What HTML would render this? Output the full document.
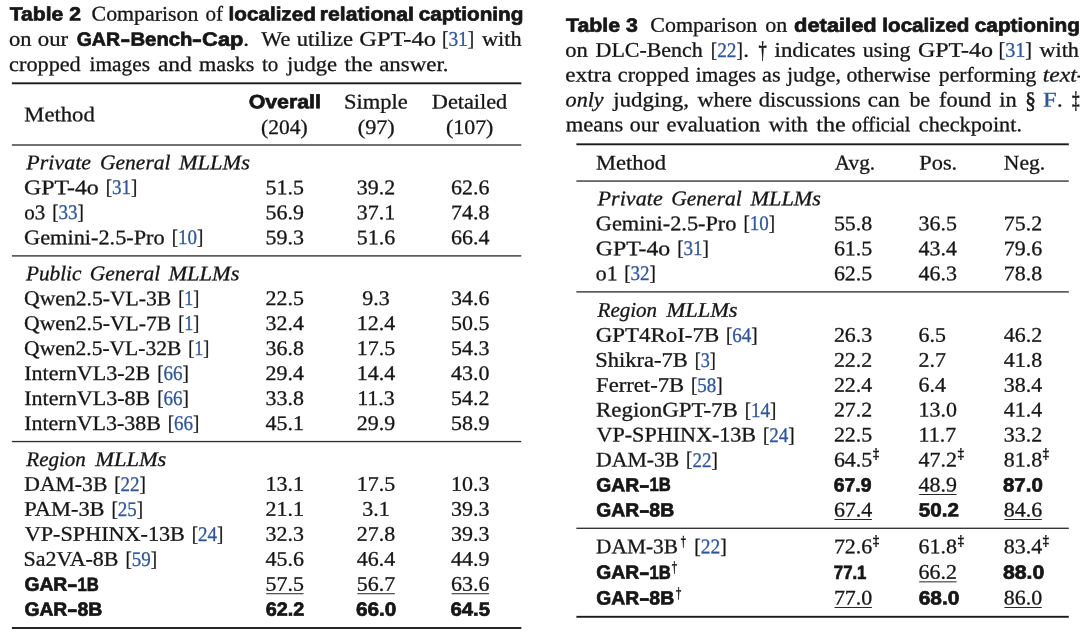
<!DOCTYPE html>
<html lang="en"><head><meta charset="utf-8"><title>Tables 2 and 3</title>
<style>
html,body{margin:0;padding:0;background:#fff;}
body{width:1080px;height:639px;overflow:hidden;}
svg{display:block;}
text{fill:#161616;white-space:pre;stroke:#161616;stroke-width:0.3px;}
.r{font-family:"Liberation Serif", serif;font-size:20.8px;}
.i{font-family:"Liberation Serif", serif;font-size:20.8px;font-style:italic;}
.b{font-family:"Liberation Sans", sans-serif;font-size:19.3px;font-weight:bold;stroke-width:0.7px;}
</style></head><body>
<svg width="1080" height="639" viewBox="0 0 1080 639">
<rect width="1080" height="639" fill="#ffffff"/>
<text class="b" x="9.79" y="20.60" transform="rotate(0.03 9.79 20.60)" textLength="71.09" lengthAdjust="spacingAndGlyphs">Table 2</text>
<text class="r" x="91.63" y="20.60" transform="rotate(0.03 91.63 20.60)" textLength="106.67" lengthAdjust="spacingAndGlyphs">Comparison</text>
<text class="r" x="205.41" y="20.60" transform="rotate(0.03 205.41 20.60)" textLength="17.55" lengthAdjust="spacingAndGlyphs">of</text>
<text class="b" x="228.55" y="20.60" transform="rotate(0.03 228.55 20.60)" textLength="87.26" lengthAdjust="spacingAndGlyphs">localized</text>
<text class="b" x="319.88" y="20.60" transform="rotate(0.03 319.88 20.60)" textLength="94.02" lengthAdjust="spacingAndGlyphs">relational</text>
<text class="b" x="418.67" y="20.60" transform="rotate(0.03 418.67 20.60)" textLength="104.68" lengthAdjust="spacingAndGlyphs">captioning</text>
<text class="r" x="9.10" y="45.80" transform="rotate(0.03 9.10 45.80)" textLength="22.49" lengthAdjust="spacingAndGlyphs">on</text>
<text class="r" x="37.84" y="45.80" transform="rotate(0.03 37.84 45.80)" textLength="30.34" lengthAdjust="spacingAndGlyphs">our</text>
<text class="b" x="76.72" y="45.80" transform="rotate(0.03 76.72 45.80)" textLength="43.31" lengthAdjust="spacingAndGlyphs">GAR</text>
<text class="b" x="120.64" y="45.80" transform="rotate(0.03 120.64 45.80)" textLength="9.66" lengthAdjust="spacingAndGlyphs">-</text>
<text class="b" x="130.48" y="45.80" transform="rotate(0.03 130.48 45.80)" textLength="61.96" lengthAdjust="spacingAndGlyphs">Bench</text>
<text class="b" x="192.02" y="45.80" transform="rotate(0.03 192.02 45.80)" textLength="9.80" lengthAdjust="spacingAndGlyphs">-</text>
<text class="b" x="202.13" y="45.80" transform="rotate(0.03 202.13 45.80)" textLength="41.23" lengthAdjust="spacingAndGlyphs">Cap</text>
<text class="r" x="243.38" y="45.80" transform="rotate(0.03 243.38 45.80)" textLength="5.83" lengthAdjust="spacingAndGlyphs">.</text>
<text class="r" x="261.25" y="45.80" transform="rotate(0.03 261.25 45.80)" textLength="28.97" lengthAdjust="spacingAndGlyphs">We</text>
<text class="r" x="296.86" y="45.80" transform="rotate(0.03 296.86 45.80)" textLength="56.20" lengthAdjust="spacingAndGlyphs">utilize</text>
<text class="r" x="359.32" y="45.80" transform="rotate(0.03 359.32 45.80)" textLength="76.67" lengthAdjust="spacingAndGlyphs">GPT-4o</text>
<text class="r" x="441.94" y="45.80" transform="rotate(0.03 441.94 45.80)" textLength="32.34" lengthAdjust="spacingAndGlyphs">[<tspan style="fill:#2f5699;stroke:#2f5699">31</tspan>]</text>
<text class="r" x="482.00" y="45.80" transform="rotate(0.03 482.00 45.80)" textLength="39.53" lengthAdjust="spacingAndGlyphs">with</text>
<text class="r" x="9.11" y="70.90" transform="rotate(0.03 9.11 70.90)" textLength="71.63" lengthAdjust="spacingAndGlyphs">cropped</text>
<text class="r" x="89.57" y="70.90" transform="rotate(0.03 89.57 70.90)" textLength="60.42" lengthAdjust="spacingAndGlyphs">images</text>
<text class="r" x="157.93" y="70.90" transform="rotate(0.03 157.93 70.90)" textLength="33.88" lengthAdjust="spacingAndGlyphs">and</text>
<text class="r" x="199.06" y="70.90" transform="rotate(0.03 199.06 70.90)" textLength="55.47" lengthAdjust="spacingAndGlyphs">masks</text>
<text class="r" x="261.99" y="70.90" transform="rotate(0.03 261.99 70.90)" textLength="16.30" lengthAdjust="spacingAndGlyphs">to</text>
<text class="r" x="286.93" y="70.90" transform="rotate(0.03 286.93 70.90)" textLength="50.04" lengthAdjust="spacingAndGlyphs">judge</text>
<text class="r" x="344.47" y="70.90" transform="rotate(0.03 344.47 70.90)" textLength="28.26" lengthAdjust="spacingAndGlyphs">the</text>
<text class="r" x="379.20" y="70.90" transform="rotate(0.03 379.20 70.90)" textLength="69.33" lengthAdjust="spacingAndGlyphs">answer.</text>
<rect x="11.90" y="82.35" width="509.40" height="1.90" fill="#1a1a1a"/>
<text class="r" x="24.32" y="121.30" transform="rotate(0.03 24.32 121.30)" textLength="70.42" lengthAdjust="spacingAndGlyphs">Method</text>
<text class="b" x="248.65" y="108.20" transform="rotate(0.03 248.65 108.20)" textLength="72.26" lengthAdjust="spacingAndGlyphs">Overall</text>
<text class="r" x="261.03" y="134.10" transform="rotate(0.03 261.03 134.10)" textLength="46.55" lengthAdjust="spacingAndGlyphs">(204)</text>
<text class="r" x="344.04" y="108.40" transform="rotate(0.03 344.04 108.40)" textLength="63.71" lengthAdjust="spacingAndGlyphs">Simple</text>
<text class="r" x="357.75" y="134.10" transform="rotate(0.03 357.75 134.10)" textLength="36.91" lengthAdjust="spacingAndGlyphs">(97)</text>
<text class="r" x="431.83" y="108.40" transform="rotate(0.03 431.83 108.40)" textLength="75.44" lengthAdjust="spacingAndGlyphs">Detailed</text>
<text class="r" x="446.02" y="134.10" transform="rotate(0.03 446.02 134.10)" textLength="47.38" lengthAdjust="spacingAndGlyphs">(107)</text>
<rect x="11.90" y="144.32" width="509.40" height="1.35" fill="#303030"/>
<text class="i" x="26.36" y="169.30" transform="rotate(0.03 26.36 169.30)" textLength="64.65" lengthAdjust="spacingAndGlyphs">Private</text>
<text class="i" x="100.07" y="169.30" transform="rotate(0.03 100.07 169.30)" textLength="70.40" lengthAdjust="spacingAndGlyphs">General</text>
<text class="i" x="178.97" y="169.30" transform="rotate(0.03 178.97 169.30)" textLength="70.89" lengthAdjust="spacingAndGlyphs">MLLMs</text>
<text class="r" x="24.05" y="194.26" transform="rotate(0.03 24.05 194.26)" textLength="74.72" lengthAdjust="spacingAndGlyphs">GPT-4o</text>
<text class="r" x="105.67" y="194.26" transform="rotate(0.03 105.67 194.26)" textLength="31.68" lengthAdjust="spacingAndGlyphs">[<tspan style="fill:#2f5699;stroke:#2f5699">31</tspan>]</text>
<text class="r" x="265.60" y="194.26" transform="rotate(0.03 265.60 194.26)" textLength="38.40" lengthAdjust="spacingAndGlyphs">51.5</text>
<text class="r" x="356.80" y="194.26" transform="rotate(0.03 356.80 194.26)" textLength="38.40" lengthAdjust="spacingAndGlyphs">39.2</text>
<text class="r" x="451.00" y="194.26" transform="rotate(0.03 451.00 194.26)" textLength="38.40" lengthAdjust="spacingAndGlyphs">62.6</text>
<text class="r" x="24.16" y="219.21" transform="rotate(0.03 24.16 219.21)" textLength="20.98" lengthAdjust="spacingAndGlyphs">o3</text>
<text class="r" x="52.17" y="219.21" transform="rotate(0.03 52.17 219.21)" textLength="31.68" lengthAdjust="spacingAndGlyphs">[<tspan style="fill:#2f5699;stroke:#2f5699">33</tspan>]</text>
<text class="r" x="265.60" y="219.21" transform="rotate(0.03 265.60 219.21)" textLength="38.40" lengthAdjust="spacingAndGlyphs">56.9</text>
<text class="r" x="356.80" y="219.21" transform="rotate(0.03 356.80 219.21)" textLength="38.40" lengthAdjust="spacingAndGlyphs">37.1</text>
<text class="r" x="451.00" y="219.21" transform="rotate(0.03 451.00 219.21)" textLength="38.40" lengthAdjust="spacingAndGlyphs">74.8</text>
<text class="r" x="24.11" y="244.17" transform="rotate(0.03 24.11 244.17)" textLength="140.58" lengthAdjust="spacingAndGlyphs">Gemini-2.5-Pro</text>
<text class="r" x="171.67" y="244.17" transform="rotate(0.03 171.67 244.17)" textLength="31.68" lengthAdjust="spacingAndGlyphs">[<tspan style="fill:#2f5699;stroke:#2f5699">10</tspan>]</text>
<text class="r" x="265.60" y="244.17" transform="rotate(0.03 265.60 244.17)" textLength="38.40" lengthAdjust="spacingAndGlyphs">59.3</text>
<text class="r" x="356.80" y="244.17" transform="rotate(0.03 356.80 244.17)" textLength="38.40" lengthAdjust="spacingAndGlyphs">51.6</text>
<text class="r" x="451.00" y="244.17" transform="rotate(0.03 451.00 244.17)" textLength="38.40" lengthAdjust="spacingAndGlyphs">66.4</text>
<rect x="11.90" y="255.22" width="509.40" height="1.35" fill="#303030"/>
<text class="i" x="25.91" y="280.17" transform="rotate(0.03 25.91 280.17)" textLength="55.56" lengthAdjust="spacingAndGlyphs">Public</text>
<text class="i" x="89.82" y="280.17" transform="rotate(0.03 89.82 280.17)" textLength="70.40" lengthAdjust="spacingAndGlyphs">General</text>
<text class="i" x="168.47" y="280.17" transform="rotate(0.03 168.47 280.17)" textLength="70.89" lengthAdjust="spacingAndGlyphs">MLLMs</text>
<text class="r" x="24.14" y="305.12" transform="rotate(0.03 24.14 305.12)" textLength="147.13" lengthAdjust="spacingAndGlyphs">Qwen2.5-VL-3B</text>
<text class="r" x="178.14" y="305.12" transform="rotate(0.03 178.14 305.12)" textLength="21.15" lengthAdjust="spacingAndGlyphs">[<tspan style="fill:#2f5699;stroke:#2f5699">1</tspan>]</text>
<text class="r" x="265.60" y="305.12" transform="rotate(0.03 265.60 305.12)" textLength="38.40" lengthAdjust="spacingAndGlyphs">22.5</text>
<text class="r" x="362.29" y="305.12" transform="rotate(0.03 362.29 305.12)" textLength="27.43" lengthAdjust="spacingAndGlyphs">9.3</text>
<text class="r" x="451.00" y="305.12" transform="rotate(0.03 451.00 305.12)" textLength="38.40" lengthAdjust="spacingAndGlyphs">34.6</text>
<text class="r" x="24.14" y="330.08" transform="rotate(0.03 24.14 330.08)" textLength="147.13" lengthAdjust="spacingAndGlyphs">Qwen2.5-VL-7B</text>
<text class="r" x="178.14" y="330.08" transform="rotate(0.03 178.14 330.08)" textLength="21.15" lengthAdjust="spacingAndGlyphs">[<tspan style="fill:#2f5699;stroke:#2f5699">1</tspan>]</text>
<text class="r" x="265.60" y="330.08" transform="rotate(0.03 265.60 330.08)" textLength="38.40" lengthAdjust="spacingAndGlyphs">32.4</text>
<text class="r" x="356.80" y="330.08" transform="rotate(0.03 356.80 330.08)" textLength="38.40" lengthAdjust="spacingAndGlyphs">12.4</text>
<text class="r" x="451.00" y="330.08" transform="rotate(0.03 451.00 330.08)" textLength="38.40" lengthAdjust="spacingAndGlyphs">50.5</text>
<text class="r" x="24.14" y="355.04" transform="rotate(0.03 24.14 355.04)" textLength="157.12" lengthAdjust="spacingAndGlyphs">Qwen2.5-VL-32B</text>
<text class="r" x="188.14" y="355.04" transform="rotate(0.03 188.14 355.04)" textLength="21.15" lengthAdjust="spacingAndGlyphs">[<tspan style="fill:#2f5699;stroke:#2f5699">1</tspan>]</text>
<text class="r" x="265.60" y="355.04" transform="rotate(0.03 265.60 355.04)" textLength="38.40" lengthAdjust="spacingAndGlyphs">36.8</text>
<text class="r" x="356.80" y="355.04" transform="rotate(0.03 356.80 355.04)" textLength="38.40" lengthAdjust="spacingAndGlyphs">17.5</text>
<text class="r" x="451.00" y="355.04" transform="rotate(0.03 451.00 355.04)" textLength="38.40" lengthAdjust="spacingAndGlyphs">54.3</text>
<text class="r" x="24.23" y="379.99" transform="rotate(0.03 24.23 379.99)" textLength="126.08" lengthAdjust="spacingAndGlyphs">InternVL3-2B</text>
<text class="r" x="157.17" y="379.99" transform="rotate(0.03 157.17 379.99)" textLength="31.68" lengthAdjust="spacingAndGlyphs">[<tspan style="fill:#2f5699;stroke:#2f5699">66</tspan>]</text>
<text class="r" x="265.60" y="379.99" transform="rotate(0.03 265.60 379.99)" textLength="38.40" lengthAdjust="spacingAndGlyphs">29.4</text>
<text class="r" x="356.80" y="379.99" transform="rotate(0.03 356.80 379.99)" textLength="38.40" lengthAdjust="spacingAndGlyphs">14.4</text>
<text class="r" x="451.00" y="379.99" transform="rotate(0.03 451.00 379.99)" textLength="38.40" lengthAdjust="spacingAndGlyphs">43.0</text>
<text class="r" x="24.23" y="404.95" transform="rotate(0.03 24.23 404.95)" textLength="126.08" lengthAdjust="spacingAndGlyphs">InternVL3-8B</text>
<text class="r" x="157.17" y="404.95" transform="rotate(0.03 157.17 404.95)" textLength="31.68" lengthAdjust="spacingAndGlyphs">[<tspan style="fill:#2f5699;stroke:#2f5699">66</tspan>]</text>
<text class="r" x="265.60" y="404.95" transform="rotate(0.03 265.60 404.95)" textLength="38.40" lengthAdjust="spacingAndGlyphs">33.8</text>
<text class="r" x="357.21" y="404.95" transform="rotate(0.03 357.21 404.95)" textLength="37.59" lengthAdjust="spacingAndGlyphs">11.3</text>
<text class="r" x="451.00" y="404.95" transform="rotate(0.03 451.00 404.95)" textLength="38.40" lengthAdjust="spacingAndGlyphs">54.2</text>
<text class="r" x="24.23" y="429.90" transform="rotate(0.03 24.23 429.90)" textLength="136.58" lengthAdjust="spacingAndGlyphs">InternVL3-38B</text>
<text class="r" x="167.67" y="429.90" transform="rotate(0.03 167.67 429.90)" textLength="31.68" lengthAdjust="spacingAndGlyphs">[<tspan style="fill:#2f5699;stroke:#2f5699">66</tspan>]</text>
<text class="r" x="265.60" y="429.90" transform="rotate(0.03 265.60 429.90)" textLength="38.40" lengthAdjust="spacingAndGlyphs">45.1</text>
<text class="r" x="356.80" y="429.90" transform="rotate(0.03 356.80 429.90)" textLength="38.40" lengthAdjust="spacingAndGlyphs">29.9</text>
<text class="r" x="451.00" y="429.90" transform="rotate(0.03 451.00 429.90)" textLength="38.40" lengthAdjust="spacingAndGlyphs">58.9</text>
<rect x="11.90" y="440.88" width="509.40" height="1.35" fill="#303030"/>
<text class="i" x="26.35" y="465.90" transform="rotate(0.03 26.35 465.90)" textLength="59.43" lengthAdjust="spacingAndGlyphs">Region</text>
<text class="i" x="95.22" y="465.90" transform="rotate(0.03 95.22 465.90)" textLength="71.14" lengthAdjust="spacingAndGlyphs">MLLMs</text>
<text class="r" x="24.35" y="490.86" transform="rotate(0.03 24.35 490.86)" textLength="83.00" lengthAdjust="spacingAndGlyphs">DAM-3B</text>
<text class="r" x="114.17" y="490.86" transform="rotate(0.03 114.17 490.86)" textLength="31.68" lengthAdjust="spacingAndGlyphs">[<tspan style="fill:#2f5699;stroke:#2f5699">22</tspan>]</text>
<text class="r" x="265.60" y="490.86" transform="rotate(0.03 265.60 490.86)" textLength="38.40" lengthAdjust="spacingAndGlyphs">13.1</text>
<text class="r" x="356.80" y="490.86" transform="rotate(0.03 356.80 490.86)" textLength="38.40" lengthAdjust="spacingAndGlyphs">17.5</text>
<text class="r" x="451.00" y="490.86" transform="rotate(0.03 451.00 490.86)" textLength="38.40" lengthAdjust="spacingAndGlyphs">10.3</text>
<text class="r" x="24.33" y="515.82" transform="rotate(0.03 24.33 515.82)" textLength="80.25" lengthAdjust="spacingAndGlyphs">PAM-3B</text>
<text class="r" x="111.42" y="515.82" transform="rotate(0.03 111.42 515.82)" textLength="31.68" lengthAdjust="spacingAndGlyphs">[<tspan style="fill:#2f5699;stroke:#2f5699">25</tspan>]</text>
<text class="r" x="265.60" y="515.82" transform="rotate(0.03 265.60 515.82)" textLength="38.40" lengthAdjust="spacingAndGlyphs">21.1</text>
<text class="r" x="362.29" y="515.82" transform="rotate(0.03 362.29 515.82)" textLength="27.43" lengthAdjust="spacingAndGlyphs">3.1</text>
<text class="r" x="451.00" y="515.82" transform="rotate(0.03 451.00 515.82)" textLength="38.40" lengthAdjust="spacingAndGlyphs">39.3</text>
<text class="r" x="24.78" y="540.77" transform="rotate(0.03 24.78 540.77)" textLength="160.10" lengthAdjust="spacingAndGlyphs">VP-SPHINX-13B</text>
<text class="r" x="191.67" y="540.77" transform="rotate(0.03 191.67 540.77)" textLength="31.68" lengthAdjust="spacingAndGlyphs">[<tspan style="fill:#2f5699;stroke:#2f5699">24</tspan>]</text>
<text class="r" x="265.60" y="540.77" transform="rotate(0.03 265.60 540.77)" textLength="38.40" lengthAdjust="spacingAndGlyphs">32.3</text>
<text class="r" x="356.80" y="540.77" transform="rotate(0.03 356.80 540.77)" textLength="38.40" lengthAdjust="spacingAndGlyphs">27.8</text>
<text class="r" x="451.00" y="540.77" transform="rotate(0.03 451.00 540.77)" textLength="38.40" lengthAdjust="spacingAndGlyphs">39.3</text>
<text class="r" x="23.57" y="565.73" transform="rotate(0.03 23.57 565.73)" textLength="94.98" lengthAdjust="spacingAndGlyphs">Sa2VA-8B</text>
<text class="r" x="125.42" y="565.73" transform="rotate(0.03 125.42 565.73)" textLength="31.68" lengthAdjust="spacingAndGlyphs">[<tspan style="fill:#2f5699;stroke:#2f5699">59</tspan>]</text>
<text class="r" x="265.60" y="565.73" transform="rotate(0.03 265.60 565.73)" textLength="38.40" lengthAdjust="spacingAndGlyphs">45.6</text>
<text class="r" x="356.80" y="565.73" transform="rotate(0.03 356.80 565.73)" textLength="38.40" lengthAdjust="spacingAndGlyphs">46.4</text>
<text class="r" x="451.00" y="565.73" transform="rotate(0.03 451.00 565.73)" textLength="38.40" lengthAdjust="spacingAndGlyphs">44.9</text>
<text class="b" x="24.43" y="590.68" transform="rotate(0.03 24.43 590.68)" textLength="42.80" lengthAdjust="spacingAndGlyphs">GAR</text>
<text class="b" x="67.38" y="590.68" transform="rotate(0.03 67.38 590.68)" textLength="10.19" lengthAdjust="spacingAndGlyphs">-</text>
<text class="b" x="77.60" y="590.68" transform="rotate(0.03 77.60 590.68)" textLength="21.31" lengthAdjust="spacingAndGlyphs">1B</text>
<text class="r" x="265.60" y="590.68" transform="rotate(0.03 265.60 590.68)" textLength="38.40" lengthAdjust="spacingAndGlyphs">57.5</text>
<rect x="266.20" y="593.26" width="37.40" height="0.95" fill="#1a1a1a"/>
<text class="r" x="356.80" y="590.68" transform="rotate(0.03 356.80 590.68)" textLength="38.40" lengthAdjust="spacingAndGlyphs">56.7</text>
<rect x="357.40" y="593.26" width="37.40" height="0.95" fill="#1a1a1a"/>
<text class="r" x="451.00" y="590.68" transform="rotate(0.03 451.00 590.68)" textLength="38.40" lengthAdjust="spacingAndGlyphs">63.6</text>
<rect x="451.60" y="593.26" width="37.40" height="0.95" fill="#1a1a1a"/>
<text class="b" x="24.43" y="615.64" transform="rotate(0.03 24.43 615.64)" textLength="42.80" lengthAdjust="spacingAndGlyphs">GAR</text>
<text class="b" x="67.38" y="615.64" transform="rotate(0.03 67.38 615.64)" textLength="10.19" lengthAdjust="spacingAndGlyphs">-</text>
<text class="b" x="77.52" y="615.64" transform="rotate(0.03 77.52 615.64)" textLength="24.82" lengthAdjust="spacingAndGlyphs">8B</text>
<text class="b" x="265.71" y="615.64" transform="rotate(0.03 265.71 615.64)" textLength="38.51" lengthAdjust="spacingAndGlyphs">62.2</text>
<text class="b" x="356.08" y="615.64" transform="rotate(0.03 356.08 615.64)" textLength="40.28" lengthAdjust="spacingAndGlyphs">66.0</text>
<text class="b" x="450.49" y="615.64" transform="rotate(0.03 450.49 615.64)" textLength="39.44" lengthAdjust="spacingAndGlyphs">64.5</text>
<rect x="11.90" y="627.05" width="509.40" height="1.90" fill="#1a1a1a"/>
<text class="b" x="566.04" y="31.80" transform="rotate(0.03 566.04 31.80)" textLength="71.74" lengthAdjust="spacingAndGlyphs">Table 3</text>
<text class="r" x="650.38" y="31.80" transform="rotate(0.03 650.38 31.80)" textLength="106.92" lengthAdjust="spacingAndGlyphs">Comparison</text>
<text class="r" x="765.37" y="31.80" transform="rotate(0.03 765.37 31.80)" textLength="21.96" lengthAdjust="spacingAndGlyphs">on</text>
<text class="b" x="794.13" y="31.80" transform="rotate(0.03 794.13 31.80)" textLength="82.57" lengthAdjust="spacingAndGlyphs">detailed</text>
<text class="b" x="882.36" y="31.80" transform="rotate(0.03 882.36 31.80)" textLength="86.95" lengthAdjust="spacingAndGlyphs">localized</text>
<text class="b" x="974.77" y="31.80" transform="rotate(0.03 974.77 31.80)" textLength="105.19" lengthAdjust="spacingAndGlyphs">captioning</text>
<text class="r" x="565.35" y="56.70" transform="rotate(0.03 565.35 56.70)" textLength="22.49" lengthAdjust="spacingAndGlyphs">on</text>
<text class="r" x="595.59" y="56.70" transform="rotate(0.03 595.59 56.70)" textLength="107.19" lengthAdjust="spacingAndGlyphs">DLC-Bench</text>
<text class="r" x="710.75" y="56.70" transform="rotate(0.03 710.75 56.70)" textLength="32.12" lengthAdjust="spacingAndGlyphs">[<tspan style="fill:#2f5699;stroke:#2f5699">22</tspan>]</text>
<text class="r" x="743.38" y="56.70" transform="rotate(0.03 743.38 56.70)" textLength="5.83" lengthAdjust="spacingAndGlyphs">.</text>
<text class="r" x="758.51" y="58.17" transform="rotate(0.03 758.51 58.17)" textLength="8.18" lengthAdjust="spacingAndGlyphs" style="font-size:23.70px;stroke-width:0.55px;">†</text>
<text class="r" x="774.54" y="56.70" transform="rotate(0.03 774.54 56.70)" textLength="81.24" lengthAdjust="spacingAndGlyphs">indicates</text>
<text class="r" x="862.87" y="56.70" transform="rotate(0.03 862.87 56.70)" textLength="47.61" lengthAdjust="spacingAndGlyphs">using</text>
<text class="r" x="917.94" y="56.70" transform="rotate(0.03 917.94 56.70)" textLength="75.03" lengthAdjust="spacingAndGlyphs">GPT-4o</text>
<text class="r" x="998.49" y="56.70" transform="rotate(0.03 998.49 56.70)" textLength="33.54" lengthAdjust="spacingAndGlyphs">[<tspan style="fill:#2f5699;stroke:#2f5699">31</tspan>]</text>
<text class="r" x="1039.50" y="56.70" transform="rotate(0.03 1039.50 56.70)" textLength="39.38" lengthAdjust="spacingAndGlyphs">with</text>
<text class="r" x="565.32" y="81.60" transform="rotate(0.03 565.32 81.60)" textLength="46.24" lengthAdjust="spacingAndGlyphs">extra</text>
<text class="r" x="617.87" y="81.60" transform="rotate(0.03 617.87 81.60)" textLength="71.12" lengthAdjust="spacingAndGlyphs">cropped</text>
<text class="r" x="695.83" y="81.60" transform="rotate(0.03 695.83 81.60)" textLength="60.16" lengthAdjust="spacingAndGlyphs">images</text>
<text class="r" x="762.02" y="81.60" transform="rotate(0.03 762.02 81.60)" textLength="18.51" lengthAdjust="spacingAndGlyphs">as</text>
<text class="r" x="786.90" y="81.60" transform="rotate(0.03 786.90 81.60)" textLength="53.95" lengthAdjust="spacingAndGlyphs">judge,</text>
<text class="r" x="846.43" y="81.60" transform="rotate(0.03 846.43 81.60)" textLength="84.28" lengthAdjust="spacingAndGlyphs">otherwise</text>
<text class="r" x="938.87" y="81.60" transform="rotate(0.03 938.87 81.60)" textLength="97.53" lengthAdjust="spacingAndGlyphs">performing</text>
<text class="i" x="1042.74" y="81.60" transform="rotate(0.03 1042.74 81.60)" textLength="41.92" lengthAdjust="spacingAndGlyphs">text-</text>
<text class="i" x="565.59" y="106.45" transform="rotate(0.03 565.59 106.45)" textLength="38.09" lengthAdjust="spacingAndGlyphs">only</text>
<text class="r" x="613.19" y="106.45" transform="rotate(0.03 613.19 106.45)" textLength="75.82" lengthAdjust="spacingAndGlyphs">judging,</text>
<text class="r" x="697.50" y="106.45" transform="rotate(0.03 697.50 106.45)" textLength="54.48" lengthAdjust="spacingAndGlyphs">where</text>
<text class="r" x="758.72" y="106.45" transform="rotate(0.03 758.72 106.45)" textLength="102.09" lengthAdjust="spacingAndGlyphs">discussions</text>
<text class="r" x="867.83" y="106.45" transform="rotate(0.03 867.83 106.45)" textLength="31.86" lengthAdjust="spacingAndGlyphs">can</text>
<text class="r" x="909.40" y="106.45" transform="rotate(0.03 909.40 106.45)" textLength="20.74" lengthAdjust="spacingAndGlyphs">be</text>
<text class="r" x="939.03" y="106.45" transform="rotate(0.03 939.03 106.45)" textLength="52.15" lengthAdjust="spacingAndGlyphs">found</text>
<text class="r" x="999.25" y="106.45" transform="rotate(0.03 999.25 106.45)" textLength="17.44" lengthAdjust="spacingAndGlyphs">in</text>
<text class="r" x="1025.31" y="107.75" transform="rotate(0.03 1025.31 107.75)" textLength="10.58" lengthAdjust="spacingAndGlyphs" style="font-size:23.23px;stroke-width:0.55px;">§</text>
<text class="r" x="1043.06" y="106.45" transform="rotate(0.03 1043.06 106.45)" textLength="13.73" lengthAdjust="spacingAndGlyphs" style="fill:#2f5699;stroke:#2f5699;">F</text>
<text class="r" x="1057.04" y="106.45" transform="rotate(0.03 1057.04 106.45)" textLength="5.63" lengthAdjust="spacingAndGlyphs">.</text>
<text class="r" x="1072.04" y="107.92" transform="rotate(0.03 1072.04 107.92)" textLength="7.61" lengthAdjust="spacingAndGlyphs" style="font-size:23.70px;stroke-width:0.55px;">‡</text>
<text class="r" x="565.80" y="131.30" transform="rotate(0.03 565.80 131.30)" textLength="57.48" lengthAdjust="spacingAndGlyphs">means</text>
<text class="r" x="629.88" y="131.30" transform="rotate(0.03 629.88 131.30)" textLength="29.05" lengthAdjust="spacingAndGlyphs">our</text>
<text class="r" x="666.60" y="131.30" transform="rotate(0.03 666.60 131.30)" textLength="93.74" lengthAdjust="spacingAndGlyphs">evaluation</text>
<text class="r" x="768.80" y="131.30" transform="rotate(0.03 768.80 131.30)" textLength="38.98" lengthAdjust="spacingAndGlyphs">with</text>
<text class="r" x="816.26" y="131.30" transform="rotate(0.03 816.26 131.30)" textLength="29.51" lengthAdjust="spacingAndGlyphs">the</text>
<text class="r" x="851.68" y="131.30" transform="rotate(0.03 851.68 131.30)" textLength="58.71" lengthAdjust="spacingAndGlyphs">official</text>
<text class="r" x="918.81" y="131.30" transform="rotate(0.03 918.81 131.30)" textLength="103.18" lengthAdjust="spacingAndGlyphs">checkpoint.</text>
<rect x="576.40" y="143.35" width="492.40" height="1.90" fill="#1a1a1a"/>
<text class="r" x="596.08" y="169.60" transform="rotate(0.03 596.08 169.60)" textLength="69.92" lengthAdjust="spacingAndGlyphs">Method</text>
<text class="r" x="834.79" y="169.60" transform="rotate(0.03 834.79 169.60)" textLength="40.30" lengthAdjust="spacingAndGlyphs">Avg.</text>
<text class="r" x="919.33" y="169.60" transform="rotate(0.03 919.33 169.60)" textLength="37.88" lengthAdjust="spacingAndGlyphs">Pos.</text>
<text class="r" x="1003.85" y="169.60" transform="rotate(0.03 1003.85 169.60)" textLength="41.32" lengthAdjust="spacingAndGlyphs">Neg.</text>
<rect x="576.40" y="180.38" width="492.40" height="1.35" fill="#303030"/>
<text class="i" x="597.61" y="205.30" transform="rotate(0.03 597.61 205.30)" textLength="65.10" lengthAdjust="spacingAndGlyphs">Private</text>
<text class="i" x="671.32" y="205.30" transform="rotate(0.03 671.32 205.30)" textLength="70.40" lengthAdjust="spacingAndGlyphs">General</text>
<text class="i" x="750.52" y="205.30" transform="rotate(0.03 750.52 205.30)" textLength="70.39" lengthAdjust="spacingAndGlyphs">MLLMs</text>
<text class="r" x="595.86" y="230.26" transform="rotate(0.03 595.86 230.26)" textLength="140.58" lengthAdjust="spacingAndGlyphs">Gemini-2.5-Pro</text>
<text class="r" x="743.42" y="230.26" transform="rotate(0.03 743.42 230.26)" textLength="31.68" lengthAdjust="spacingAndGlyphs">[<tspan style="fill:#2f5699;stroke:#2f5699">10</tspan>]</text>
<text class="r" x="833.90" y="230.26" transform="rotate(0.03 833.90 230.26)" textLength="38.40" lengthAdjust="spacingAndGlyphs">55.8</text>
<text class="r" x="918.60" y="230.26" transform="rotate(0.03 918.60 230.26)" textLength="38.40" lengthAdjust="spacingAndGlyphs">36.5</text>
<text class="r" x="1003.80" y="230.26" transform="rotate(0.03 1003.80 230.26)" textLength="38.40" lengthAdjust="spacingAndGlyphs">75.2</text>
<text class="r" x="595.80" y="255.21" transform="rotate(0.03 595.80 255.21)" textLength="74.46" lengthAdjust="spacingAndGlyphs">GPT-4o</text>
<text class="r" x="677.17" y="255.21" transform="rotate(0.03 677.17 255.21)" textLength="31.68" lengthAdjust="spacingAndGlyphs">[<tspan style="fill:#2f5699;stroke:#2f5699">31</tspan>]</text>
<text class="r" x="833.90" y="255.21" transform="rotate(0.03 833.90 255.21)" textLength="38.40" lengthAdjust="spacingAndGlyphs">61.5</text>
<text class="r" x="918.60" y="255.21" transform="rotate(0.03 918.60 255.21)" textLength="38.40" lengthAdjust="spacingAndGlyphs">43.4</text>
<text class="r" x="1003.80" y="255.21" transform="rotate(0.03 1003.80 255.21)" textLength="38.40" lengthAdjust="spacingAndGlyphs">79.6</text>
<text class="r" x="595.88" y="280.17" transform="rotate(0.03 595.88 280.17)" textLength="21.72" lengthAdjust="spacingAndGlyphs">o1</text>
<text class="r" x="624.17" y="280.17" transform="rotate(0.03 624.17 280.17)" textLength="31.68" lengthAdjust="spacingAndGlyphs">[<tspan style="fill:#2f5699;stroke:#2f5699">32</tspan>]</text>
<text class="r" x="833.90" y="280.17" transform="rotate(0.03 833.90 280.17)" textLength="38.40" lengthAdjust="spacingAndGlyphs">62.5</text>
<text class="r" x="918.60" y="280.17" transform="rotate(0.03 918.60 280.17)" textLength="38.40" lengthAdjust="spacingAndGlyphs">46.3</text>
<text class="r" x="1003.80" y="280.17" transform="rotate(0.03 1003.80 280.17)" textLength="38.40" lengthAdjust="spacingAndGlyphs">78.8</text>
<rect x="576.40" y="291.22" width="492.40" height="1.35" fill="#303030"/>
<text class="i" x="597.60" y="316.77" transform="rotate(0.03 597.60 316.77)" textLength="59.43" lengthAdjust="spacingAndGlyphs">Region</text>
<text class="i" x="666.47" y="316.77" transform="rotate(0.03 666.47 316.77)" textLength="71.14" lengthAdjust="spacingAndGlyphs">MLLMs</text>
<text class="r" x="595.83" y="341.72" transform="rotate(0.03 595.83 341.72)" textLength="123.35" lengthAdjust="spacingAndGlyphs">GPT4RoI-7B</text>
<text class="r" x="725.92" y="341.72" transform="rotate(0.03 725.92 341.72)" textLength="31.68" lengthAdjust="spacingAndGlyphs">[<tspan style="fill:#2f5699;stroke:#2f5699">64</tspan>]</text>
<text class="r" x="833.90" y="341.72" transform="rotate(0.03 833.90 341.72)" textLength="38.40" lengthAdjust="spacingAndGlyphs">26.3</text>
<text class="r" x="918.60" y="341.72" transform="rotate(0.03 918.60 341.72)" textLength="27.43" lengthAdjust="spacingAndGlyphs">6.5</text>
<text class="r" x="1003.80" y="341.72" transform="rotate(0.03 1003.80 341.72)" textLength="38.40" lengthAdjust="spacingAndGlyphs">46.2</text>
<text class="r" x="595.29" y="366.68" transform="rotate(0.03 595.29 366.68)" textLength="92.44" lengthAdjust="spacingAndGlyphs">Shikra-7B</text>
<text class="r" x="694.64" y="366.68" transform="rotate(0.03 694.64 366.68)" textLength="21.15" lengthAdjust="spacingAndGlyphs">[<tspan style="fill:#2f5699;stroke:#2f5699">3</tspan>]</text>
<text class="r" x="833.90" y="366.68" transform="rotate(0.03 833.90 366.68)" textLength="38.40" lengthAdjust="spacingAndGlyphs">22.2</text>
<text class="r" x="918.60" y="366.68" transform="rotate(0.03 918.60 366.68)" textLength="27.43" lengthAdjust="spacingAndGlyphs">2.7</text>
<text class="r" x="1003.80" y="366.68" transform="rotate(0.03 1003.80 366.68)" textLength="38.40" lengthAdjust="spacingAndGlyphs">41.8</text>
<text class="r" x="596.07" y="391.64" transform="rotate(0.03 596.07 391.64)" textLength="88.06" lengthAdjust="spacingAndGlyphs">Ferret-7B</text>
<text class="r" x="690.92" y="391.64" transform="rotate(0.03 690.92 391.64)" textLength="31.68" lengthAdjust="spacingAndGlyphs">[<tspan style="fill:#2f5699;stroke:#2f5699">58</tspan>]</text>
<text class="r" x="833.90" y="391.64" transform="rotate(0.03 833.90 391.64)" textLength="38.40" lengthAdjust="spacingAndGlyphs">22.4</text>
<text class="r" x="918.60" y="391.64" transform="rotate(0.03 918.60 391.64)" textLength="27.43" lengthAdjust="spacingAndGlyphs">6.4</text>
<text class="r" x="1003.80" y="391.64" transform="rotate(0.03 1003.80 391.64)" textLength="38.40" lengthAdjust="spacingAndGlyphs">38.4</text>
<text class="r" x="596.06" y="416.59" transform="rotate(0.03 596.06 416.59)" textLength="141.80" lengthAdjust="spacingAndGlyphs">RegionGPT-7B</text>
<text class="r" x="744.67" y="416.59" transform="rotate(0.03 744.67 416.59)" textLength="31.68" lengthAdjust="spacingAndGlyphs">[<tspan style="fill:#2f5699;stroke:#2f5699">14</tspan>]</text>
<text class="r" x="833.90" y="416.59" transform="rotate(0.03 833.90 416.59)" textLength="38.40" lengthAdjust="spacingAndGlyphs">27.2</text>
<text class="r" x="918.60" y="416.59" transform="rotate(0.03 918.60 416.59)" textLength="38.40" lengthAdjust="spacingAndGlyphs">13.0</text>
<text class="r" x="1003.80" y="416.59" transform="rotate(0.03 1003.80 416.59)" textLength="38.40" lengthAdjust="spacingAndGlyphs">41.4</text>
<text class="r" x="596.53" y="441.55" transform="rotate(0.03 596.53 441.55)" textLength="159.59" lengthAdjust="spacingAndGlyphs">VP-SPHINX-13B</text>
<text class="r" x="762.92" y="441.55" transform="rotate(0.03 762.92 441.55)" textLength="31.68" lengthAdjust="spacingAndGlyphs">[<tspan style="fill:#2f5699;stroke:#2f5699">24</tspan>]</text>
<text class="r" x="833.90" y="441.55" transform="rotate(0.03 833.90 441.55)" textLength="38.40" lengthAdjust="spacingAndGlyphs">22.5</text>
<text class="r" x="918.60" y="441.55" transform="rotate(0.03 918.60 441.55)" textLength="37.59" lengthAdjust="spacingAndGlyphs">11.7</text>
<text class="r" x="1003.80" y="441.55" transform="rotate(0.03 1003.80 441.55)" textLength="38.40" lengthAdjust="spacingAndGlyphs">33.2</text>
<text class="r" x="596.10" y="466.50" transform="rotate(0.03 596.10 466.50)" textLength="83.15" lengthAdjust="spacingAndGlyphs">DAM-3B</text>
<text class="r" x="686.07" y="466.50" transform="rotate(0.03 686.07 466.50)" textLength="31.68" lengthAdjust="spacingAndGlyphs">[<tspan style="fill:#2f5699;stroke:#2f5699">22</tspan>]</text>
<text class="r" x="833.90" y="466.50" transform="rotate(0.03 833.90 466.50)" textLength="38.40" lengthAdjust="spacingAndGlyphs">64.5</text>
<text class="r" x="872.93" y="457.90" transform="rotate(0.03 872.93 457.90)" textLength="6.14" lengthAdjust="spacingAndGlyphs" style="font-size:13.95px;stroke-width:0.55px;">‡</text>
<text class="r" x="918.60" y="466.50" transform="rotate(0.03 918.60 466.50)" textLength="38.40" lengthAdjust="spacingAndGlyphs">47.2</text>
<text class="r" x="957.63" y="457.90" transform="rotate(0.03 957.63 457.90)" textLength="6.14" lengthAdjust="spacingAndGlyphs" style="font-size:13.95px;stroke-width:0.55px;">‡</text>
<text class="r" x="1003.80" y="466.50" transform="rotate(0.03 1003.80 466.50)" textLength="38.40" lengthAdjust="spacingAndGlyphs">81.8</text>
<text class="r" x="1042.83" y="457.90" transform="rotate(0.03 1042.83 457.90)" textLength="6.14" lengthAdjust="spacingAndGlyphs" style="font-size:13.95px;stroke-width:0.55px;">‡</text>
<text class="b" x="596.28" y="491.46" transform="rotate(0.03 596.28 491.46)" textLength="42.80" lengthAdjust="spacingAndGlyphs">GAR</text>
<text class="b" x="639.23" y="491.46" transform="rotate(0.03 639.23 491.46)" textLength="10.19" lengthAdjust="spacingAndGlyphs">-</text>
<text class="b" x="649.45" y="491.46" transform="rotate(0.03 649.45 491.46)" textLength="21.31" lengthAdjust="spacingAndGlyphs">1B</text>
<text class="b" x="833.82" y="491.46" transform="rotate(0.03 833.82 491.46)" textLength="37.68" lengthAdjust="spacingAndGlyphs">67.9</text>
<text class="r" x="918.60" y="491.46" transform="rotate(0.03 918.60 491.46)" textLength="38.40" lengthAdjust="spacingAndGlyphs">48.9</text>
<rect x="919.20" y="494.04" width="37.40" height="0.95" fill="#1a1a1a"/>
<text class="b" x="1002.99" y="491.46" transform="rotate(0.03 1002.99 491.46)" textLength="39.86" lengthAdjust="spacingAndGlyphs">87.0</text>
<text class="b" x="596.28" y="516.42" transform="rotate(0.03 596.28 516.42)" textLength="42.80" lengthAdjust="spacingAndGlyphs">GAR</text>
<text class="b" x="639.23" y="516.42" transform="rotate(0.03 639.23 516.42)" textLength="10.19" lengthAdjust="spacingAndGlyphs">-</text>
<text class="b" x="649.37" y="516.42" transform="rotate(0.03 649.37 516.42)" textLength="24.82" lengthAdjust="spacingAndGlyphs">8B</text>
<text class="r" x="833.90" y="516.42" transform="rotate(0.03 833.90 516.42)" textLength="38.40" lengthAdjust="spacingAndGlyphs">67.4</text>
<rect x="834.50" y="518.99" width="37.40" height="0.95" fill="#1a1a1a"/>
<text class="b" x="918.78" y="516.42" transform="rotate(0.03 918.78 516.42)" textLength="40.07" lengthAdjust="spacingAndGlyphs">50.2</text>
<text class="r" x="1003.80" y="516.42" transform="rotate(0.03 1003.80 516.42)" textLength="38.40" lengthAdjust="spacingAndGlyphs">84.6</text>
<rect x="1004.40" y="518.99" width="37.40" height="0.95" fill="#1a1a1a"/>
<rect x="576.40" y="527.62" width="492.40" height="1.35" fill="#303030"/>
<text class="r" x="596.11" y="553.30" transform="rotate(0.03 596.11 553.30)" textLength="81.93" lengthAdjust="spacingAndGlyphs">DAM-3B</text>
<text class="r" x="680.69" y="546.25" transform="rotate(0.03 680.69 546.25)" textLength="5.11" lengthAdjust="spacingAndGlyphs" style="font-size:14.32px;stroke-width:0.55px;">†</text>
<text class="r" x="694.28" y="553.30" transform="rotate(0.03 694.28 553.30)" textLength="32.61" lengthAdjust="spacingAndGlyphs">[<tspan style="fill:#2f5699;stroke:#2f5699">22</tspan>]</text>
<text class="r" x="833.90" y="553.30" transform="rotate(0.03 833.90 553.30)" textLength="38.40" lengthAdjust="spacingAndGlyphs">72.6</text>
<text class="r" x="872.93" y="544.70" transform="rotate(0.03 872.93 544.70)" textLength="6.14" lengthAdjust="spacingAndGlyphs" style="font-size:13.95px;stroke-width:0.55px;">‡</text>
<text class="r" x="918.60" y="553.30" transform="rotate(0.03 918.60 553.30)" textLength="38.40" lengthAdjust="spacingAndGlyphs">61.8</text>
<text class="r" x="957.63" y="544.70" transform="rotate(0.03 957.63 544.70)" textLength="6.14" lengthAdjust="spacingAndGlyphs" style="font-size:13.95px;stroke-width:0.55px;">‡</text>
<text class="r" x="1003.80" y="553.30" transform="rotate(0.03 1003.80 553.30)" textLength="38.40" lengthAdjust="spacingAndGlyphs">83.4</text>
<text class="r" x="1042.83" y="544.70" transform="rotate(0.03 1042.83 544.70)" textLength="6.14" lengthAdjust="spacingAndGlyphs" style="font-size:13.95px;stroke-width:0.55px;">‡</text>
<text class="b" x="596.28" y="578.80" transform="rotate(0.03 596.28 578.80)" textLength="42.80" lengthAdjust="spacingAndGlyphs">GAR</text>
<text class="b" x="639.23" y="578.80" transform="rotate(0.03 639.23 578.80)" textLength="10.19" lengthAdjust="spacingAndGlyphs">-</text>
<text class="b" x="649.45" y="578.80" transform="rotate(0.03 649.45 578.80)" textLength="21.31" lengthAdjust="spacingAndGlyphs">1B</text>
<text class="r" x="671.79" y="572.27" transform="rotate(0.03 671.79 572.27)" textLength="5.23" lengthAdjust="spacingAndGlyphs" style="font-size:15.06px;stroke-width:0.55px;">†</text>
<text class="b" x="833.83" y="578.80" transform="rotate(0.03 833.83 578.80)" textLength="32.61" lengthAdjust="spacingAndGlyphs">77.1</text>
<text class="r" x="918.60" y="578.80" transform="rotate(0.03 918.60 578.80)" textLength="38.40" lengthAdjust="spacingAndGlyphs">66.2</text>
<rect x="919.20" y="581.37" width="37.40" height="0.95" fill="#1a1a1a"/>
<text class="b" x="1002.96" y="578.80" transform="rotate(0.03 1002.96 578.80)" textLength="41.42" lengthAdjust="spacingAndGlyphs">88.0</text>
<text class="b" x="596.28" y="604.40" transform="rotate(0.03 596.28 604.40)" textLength="42.80" lengthAdjust="spacingAndGlyphs">GAR</text>
<text class="b" x="639.23" y="604.40" transform="rotate(0.03 639.23 604.40)" textLength="10.19" lengthAdjust="spacingAndGlyphs">-</text>
<text class="b" x="649.37" y="604.40" transform="rotate(0.03 649.37 604.40)" textLength="24.82" lengthAdjust="spacingAndGlyphs">8B</text>
<text class="r" x="675.89" y="597.87" transform="rotate(0.03 675.89 597.87)" textLength="5.23" lengthAdjust="spacingAndGlyphs" style="font-size:15.06px;stroke-width:0.55px;">†</text>
<text class="r" x="833.90" y="604.40" transform="rotate(0.03 833.90 604.40)" textLength="38.40" lengthAdjust="spacingAndGlyphs">77.0</text>
<rect x="834.50" y="606.97" width="37.40" height="0.95" fill="#1a1a1a"/>
<text class="b" x="918.67" y="604.40" transform="rotate(0.03 918.67 604.40)" textLength="40.70" lengthAdjust="spacingAndGlyphs">68.0</text>
<text class="r" x="1003.80" y="604.40" transform="rotate(0.03 1003.80 604.40)" textLength="38.40" lengthAdjust="spacingAndGlyphs">86.0</text>
<rect x="1004.40" y="606.97" width="37.40" height="0.95" fill="#1a1a1a"/>
<rect x="576.40" y="615.85" width="492.40" height="1.90" fill="#1a1a1a"/>
</svg>
</body></html>
